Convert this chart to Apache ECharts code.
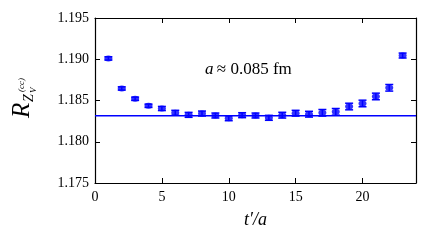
<!DOCTYPE html>
<html><head><meta charset="utf-8">
<script src="https://cdn.jsdelivr.net/npm/echarts@6/dist/echarts.min.js"></script>
<style>html,body{margin:0;padding:0;background:#fff}#c{width:427px;height:246px}</style>
</head><body><div id="c"></div>
<script>
var tValues = [1,2,3,4,5,6,7,8,9,10,11,12,13,14,15,16,17,18,19,20,21,22,23];
var rValues = [1.1901,1.18646,1.18521,1.18436,1.18403,1.18351,1.18326,1.18342,1.18318,1.18285,1.18322,1.18318,1.18290,1.18322,1.18346,1.18334,1.18351,1.18363,1.18427,1.18464,1.18549,1.18654,1.19045];
var rErrors = [0.0002,0.0002,0.0002,0.0002,0.00025,0.0003,0.0003,0.0003,0.0003,0.0003,0.0003,0.0003,0.0003,0.00035,0.00035,0.00035,0.0004,0.0004,0.0004,0.0004,0.0004,0.0004,0.0003];
var fitValue = 1.18314;
var fitRange = [0, 24];
var xTicks = [0,5,10,15,20];
var yTicks = [1.175,1.180,1.185,1.190,1.195];

var serif = '"Liberation Serif", "DejaVu Serif", serif';
var blue = '#0000ff';
var pts = tValues.map(function(t,i){return [t, rValues[i]];});
var errData = tValues.map(function(t,i){return [t, rValues[i]-rErrors[i], rValues[i]+rErrors[i]];});
var fitLine = fitRange.map(function(t){return [t, fitValue];});

var chart = echarts.init(document.getElementById('c'), null, {renderer:'canvas'});
var axisCommon = {
  axisLine:{show:true, onZero:false, lineStyle:{color:'#000', width:1.2}},
  axisTick:{show:true, inside:true, length:5, lineStyle:{color:'#000', width:1}},
  splitLine:{show:false}
};
chart.setOption({
  animation:false,
  grid:{left:95, right:11, top:18, bottom:63},
  xAxis:[
    Object.assign({type:'value', min:0, max:24, interval:5, position:'bottom',
      axisLabel:{color:'#000', fontFamily:serif, fontSize:14, margin:7, showMaxLabel:false},
      name:'t′/a', nameLocation:'middle', nameGap:28,
      nameTextStyle:{color:'#000', fontFamily:serif, fontSize:18, fontStyle:'italic'}}, axisCommon),
    Object.assign({type:'value', min:0, max:24, interval:5, position:'top', axisLabel:{show:false}}, axisCommon)
  ],
  yAxis:[
    Object.assign({type:'value', min:1.175, max:1.195, interval:0.005, position:'left',
      axisLabel:{color:'#000', fontFamily:serif, fontSize:14, margin:6,
        formatter:function(v){return v.toFixed(3);}}}, axisCommon),
    Object.assign({type:'value', min:1.175, max:1.195, interval:0.005, position:'right', axisLabel:{show:false}}, axisCommon)
  ],
  graphic:[
    {type:'group', x:22, y:98, rotation:Math.PI/2, children:[
      {type:'text', x:-20, y:0, style:{text:'R', font:'italic 25px '+serif, fill:'#000', textVerticalAlign:'middle', textAlign:'left'}},
      {type:'text', x:-4, y:7, style:{text:'Z', font:'italic 14px '+serif, fill:'#000', textVerticalAlign:'middle', textAlign:'left'}},
      {type:'text', x:5, y:12, style:{text:'V', font:'italic 9px '+serif, fill:'#000', textVerticalAlign:'middle', textAlign:'left'}},
      {type:'text', x:6, y:0, style:{text:'(cc)', font:'italic 9px '+serif, fill:'#000', textVerticalAlign:'middle', textAlign:'left'}}
    ]},
    {type:'text', left:205, top:61, style:{rich:{
      i:{fontFamily:serif, fontStyle:'italic', fontSize:17, fill:'#000'},
      n:{fontFamily:serif, fontSize:17, fill:'#000'}}, text:'{i|a} {n|≈ 0.085 fm}'}}
  ],
  series:[
    {type:'line', xAxisIndex:0, yAxisIndex:0, data:fitLine, symbol:'none', silent:true, z:2,
      lineStyle:{color:blue, width:1.5}},
    {type:'custom', xAxisIndex:0, yAxisIndex:0, data:errData, z:3,
      renderItem:function(params, api){
        var lo = api.coord([api.value(0), api.value(1)]);
        var hi = api.coord([api.value(0), api.value(2)]);
        var w = 4;
        var st = {stroke:blue, lineWidth:1.5};
        return {type:'group', children:[
          {type:'line', shape:{x1:lo[0], y1:lo[1], x2:hi[0], y2:hi[1]}, style:st},
          {type:'line', shape:{x1:lo[0]-w, y1:lo[1], x2:lo[0]+w, y2:lo[1]}, style:st},
          {type:'line', shape:{x1:hi[0]-w, y1:hi[1], x2:hi[0]+w, y2:hi[1]}, style:st}
        ]};
      }},
    {type:'scatter', xAxisIndex:0, yAxisIndex:0, data:pts, symbol:'circle', symbolSize:[8,6], z:4,
      itemStyle:{color:blue}}
  ]
});
</script></body></html>
